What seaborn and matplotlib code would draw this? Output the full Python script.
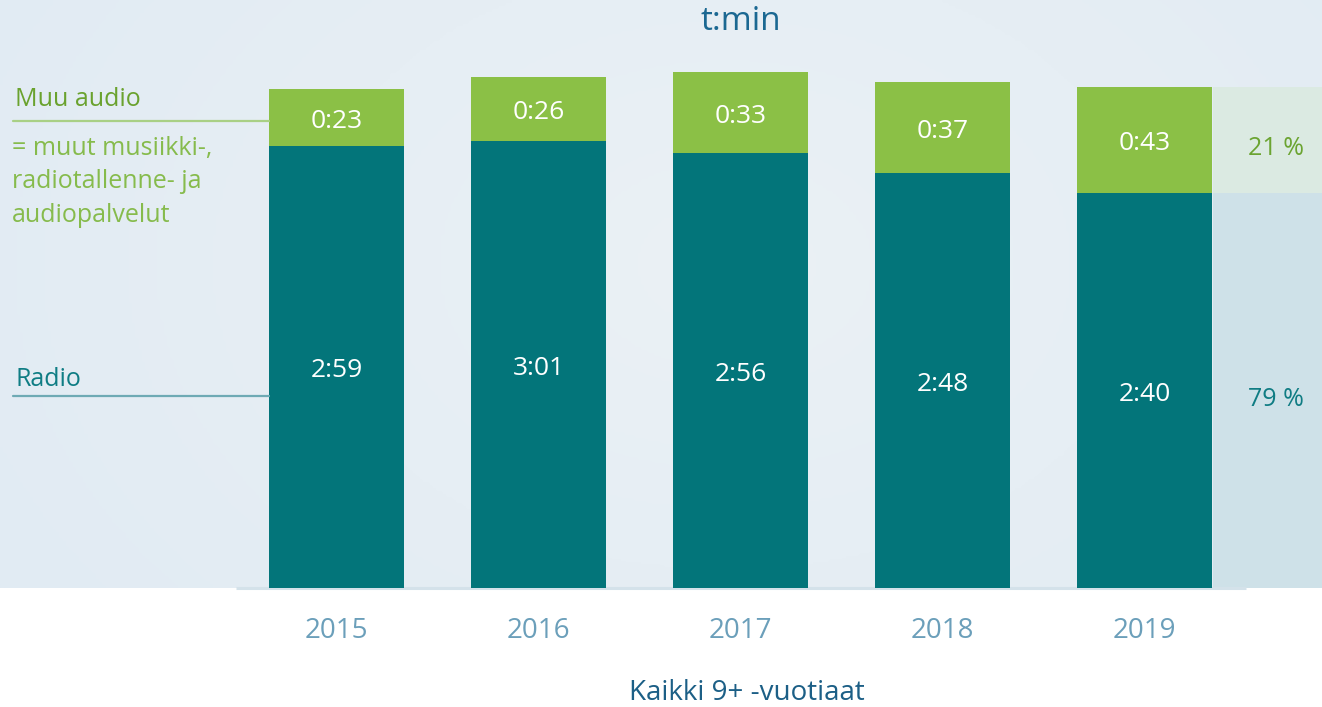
import numpy as np
import pandas as pd
import seaborn as sns
import matplotlib.pyplot as plt
from matplotlib.colors import LinearSegmentedColormap
import matplotlib.transforms as mtransforms

YEARS = ['2015', '2016', '2017', '2018', '2019']
RADIO_MIN = [179, 181, 176, 168, 160]     # 2:59, 3:01, 2:56, 2:48, 2:40
OTHER_MIN = [23, 26, 33, 37, 43]          # 0:23, 0:26, 0:33, 0:37, 0:43

TEAL = '#03757a'
GREEN = '#8bc046'
W, H = 1322, 707
PX_PER_MIN = 2.47
BASE_PX = 588


def hmm(m):
  return '%d:%02d' % (m // 60, m % 60)


def px(x, y):
  # pixel position -> figure fraction
  return x / W, 1 - y / H


df = pd.DataFrame({'year': YEARS, 'radio': RADIO_MIN, 'other': OTHER_MIN})
df['total'] = df.radio + df.other

sns.set_theme(style='white')
plt.rcParams['font.family'] = ['Open Sans', 'DejaVu Sans']

fig = plt.figure(figsize=(W / 100, H / 100), dpi=100, facecolor='white')
ax = fig.add_axes([0, (H - BASE_PX) / H, 1, BASE_PX / H])

x0 = -336.5 / 202
x1 = (W - 336.5) / 202
ytop = BASE_PX / PX_PER_MIN

# soft background gradient
gy, gx = np.mgrid[0:1:200j, 0:1:400j]
r = np.sqrt(((gx - 0.55) * 1.6) ** 2 + (gy - 0.45) ** 2)
bg_cmap = LinearSegmentedColormap.from_list('bg', ['#ebf1f5', '#e1ebf3'])
ax.imshow(r, cmap=bg_cmap, extent=(x0, x1, 0, ytop), aspect='auto', zorder=0)

sns.barplot(data=df, x='year', y='total', color=GREEN, saturation=1, width=0.668,
            errorbar=None, linewidth=0, ax=ax, zorder=2)
sns.barplot(data=df, x='year', y='radio', color=TEAL, saturation=1, width=0.668,
            errorbar=None, linewidth=0, ax=ax, zorder=3)

# text a few pixels lower than the geometric middle
low = mtransforms.offset_copy(ax.transData, fig=fig, y=-4, units='dots')
low2 = mtransforms.offset_copy(ax.transData, fig=fig, y=-9, units='dots')

# share panel next to the last bar
last = df.iloc[-1]
ax.bar([4.339], [last.total], width=1, align='edge', color='#dbeae2', linewidth=0, zorder=1)
ax.bar([4.339], [last.radio], width=1, align='edge', color='#cee1e8', linewidth=0, zorder=1)
ax.text(4.651, last.radio + last.other / 2, '%d %%' % round(100 * last.other / last.total),
        ha='center', va='center', color='#6ba431', fontsize=18, zorder=4, transform=low2)
ax.text(4.651, last.radio / 2, '%d %%' % round(100 * last.radio / last.total),
        ha='center', va='center', color='#0f7c83', fontsize=18, zorder=4, transform=low2)

for i, row in df.iterrows():
  ax.text(i, row.radio / 2, hmm(row.radio), ha='center', va='center',
          color='white', fontsize=19, zorder=5, transform=low)
  ax.text(i, row.radio + row.other / 2, hmm(row.other), ha='center', va='center',
          color='white', fontsize=19, zorder=5, transform=low)

ax.hlines(0, -0.5, 4.5, color='#d4e2ea', linewidth=2.2, zorder=1, clip_on=False)

ax.set_xlim(x0, x1)
ax.set_ylim(0, ytop)
ax.set_yticks([])
ax.set_xlabel('')
ax.set_ylabel('')
for s in ax.spines.values():
  s.set_visible(False)
ax.tick_params(axis='x', length=0, pad=21, labelsize=20, labelcolor='#6b9fba')

trans = mtransforms.blended_transform_factory(ax.transData, fig.transFigure)
ax.text(2.0, px(0, 21)[1], 't:min', transform=trans, ha='center', va='center',
        color='#1b6892', fontsize=24)
ax.text(2.03, px(0, 693)[1], 'Kaikki 9+ -vuotiaat', transform=trans, ha='center',
        va='center', color='#1c5f86', fontsize=20, clip_on=False)

# series labels on the left
fig.text(*px(15, 100), 'Muu audio', ha='left', va='center', color='#6aa22e', fontsize=18)
fig.text(*px(12, 182), '= muut musiikki-,\nradiotallenne- ja\naudiopalvelut', ha='left',
         va='center', color='#86bb4c', fontsize=18, linespacing=1.45)
fig.text(*px(15, 379), 'Radio', ha='left', va='center', color='#0f7d84', fontsize=18)
fig.add_artist(plt.Line2D([13 / W, 269 / W], [1 - 121 / H] * 2, color='#a9d085', lw=1.6))
fig.add_artist(plt.Line2D([13 / W, 269 / W], [1 - 396 / H] * 2, color='#6eaab4', lw=1.6))

fig.savefig('out.png', dpi=100, facecolor='white')
